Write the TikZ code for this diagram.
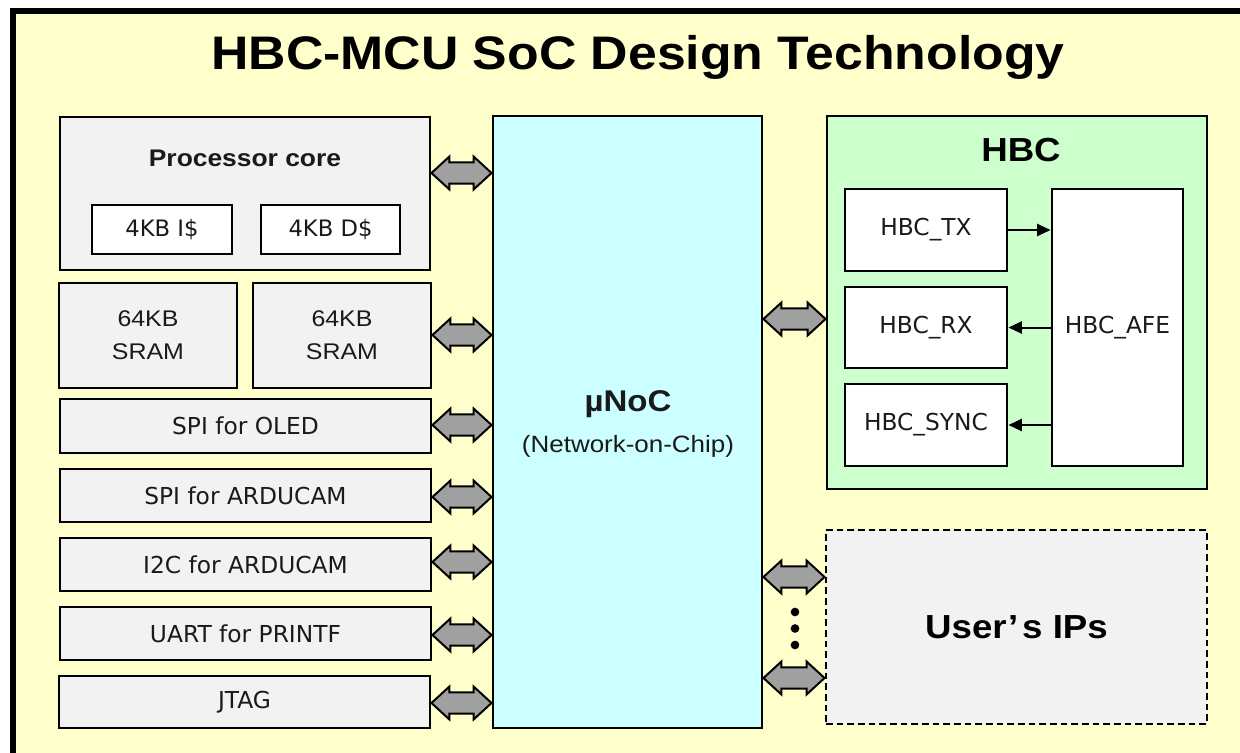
\documentclass[tikz,border=0pt]{standalone}
\usepackage{fontspec}
\setmainfont{Liberation Sans}[FakeStretch=1.1]
\newfontfamily\labelfont{DejaVu Sans}
\usetikzlibrary{arrows.meta,calc}

\definecolor{paper}{HTML}{FFFFCC}
\definecolor{boxgray}{HTML}{F2F2F2}
\definecolor{nocfill}{HTML}{CCFFFF}
\definecolor{hbcfill}{HTML}{CCFFCC}
\definecolor{busgray}{HTML}{A0A0A0}
\definecolor{ink}{HTML}{1A1A1A}

% block node given its corner coordinates (in px units)
\newcommand\blk[7][]{%
  \node[blockbox,#1,minimum width={(#5-#3)*0.75pt},minimum height={(#6-#4)*0.75pt}]
    (#2) at ({(#3+#5)/2},{(#4+#6)/2}) {#7};}

% wide grey double-headed bus arrow between two nodes at height #3
\newcommand\busarrow[3]{%
  \filldraw[bus] let \p1=(#1), \p2=(#2), \p3=(0,#3) in
    (\x1,\y3) -- (\x1+13.5pt,\y3+12.4pt) -- (\x1+13.5pt,\y3+7.9pt)
    -- (\x2-13.5pt,\y3+7.9pt) -- (\x2-13.5pt,\y3+12.4pt) -- (\x2,\y3)
    -- (\x2-13.5pt,\y3-12.4pt) -- (\x2-13.5pt,\y3-7.9pt)
    -- (\x1+13.5pt,\y3-7.9pt) -- (\x1+13.5pt,\y3-12.4pt) -- cycle;}

\begin{document}
\begin{tikzpicture}[x=0.75pt,y=-0.75pt,
  blockbox/.style={draw=black,line width=2.2pt,fill=boxgray,inner sep=0pt,
    text=ink,align=center,font=\labelfont\fontsize{17.5}{20}\selectfont},
  whitebox/.style={fill=white},
  bus/.style={draw=black,fill=busgray,line width=1.5pt,line join=miter},
  sig/.style={draw=black,line width=1.5pt,-{Triangle[length=10pt,width=9pt]}},
  dot/.style={circle,fill=black,inner sep=0pt,minimum size=6.5pt}]

\useasboundingbox (0,0) rectangle (1240,753);
\clip (0,0) rectangle (1240,753);
\fill[white] (0,0) rectangle (1240,753);
% outer frame: only its top and left sides fall on the page
\fill[paper] (13,11) rectangle (1240,753);
\draw[line width=4.5pt,line cap=rect] (13,753) -- (13,11) -- (1240,11);

\node[text=black,font=\bfseries\fontsize{35.3}{40}\selectfont] (title) at (638,57)
  {HBC-MCU SoC Design Technology};

% processor core with caches
\blk{proc}{60}{117}{430}{270}{}
\node[text=ink,font=\bfseries\fontsize{18}{20}\selectfont] (proclbl) at (245,158) {Processor core};
\blk[whitebox,line width=1.8pt,font=\labelfont\fontsize{17}{18}\selectfont]{icache}{92}{205}{232}{254}{4KB I\$}
\blk[whitebox,line width=1.8pt,font=\labelfont\fontsize{17}{18}\selectfont]{dcache}{261}{205}{400}{254}{4KB D\$}

% memories
\blk[font=\fontsize{17}{24.75}\selectfont]{sramA}{59}{283}{237}{388}{64KB\\SRAM}
\blk[font=\fontsize{17}{24.75}\selectfont]{sramB}{253}{283}{431}{388}{64KB\\SRAM}

% peripherals
\blk{oled}{60}{399}{431}{453}{SPI for OLED}
\blk{spicam}{60}{469}{431}{522}{SPI for ARDUCAM}
\blk{i2ccam}{60}{538}{431}{591}{I2C for ARDUCAM}
\blk{uart}{60}{607}{431}{660}{UART for PRINTF}
\blk{jtag}{59}{676}{430}{728}{JTAG}

% network-on-chip
\blk[fill=nocfill]{noc}{493}{116}{762}{728}{}
\node[text=ink,font=\bfseries\fontsize{22.5}{24}\selectfont] (noclbl) at (628,404) {µNoC};
\node[text=ink,font=\fontsize{17.7}{20}\selectfont] (nocsub) at (628,446) {(Network-on-Chip)};

% HBC subsystem
\blk[fill=hbcfill]{hbc}{827}{116}{1207}{489}{}
\node[text=black,font=\bfseries\fontsize{25}{28}\selectfont] (hbclbl) at (1021,150) {HBC};
\blk[whitebox]{tx}{845}{189}{1007}{271}{HBC\_TX}
\blk[whitebox]{rx}{845}{287}{1007}{368}{HBC\_RX}
\blk[whitebox]{sync}{845}{384}{1007}{466}{HBC\_SYNC}
\blk[whitebox]{afe}{1052}{189}{1183}{466}{HBC\_AFE}

\draw[sig] (tx.east) -- (afe.west |- tx.east);
\draw[sig] (afe.west |- rx.east) -- (rx.east);
\draw[sig] (afe.west |- sync.east) -- (sync.east);

% user IP slot
\blk[dash pattern=on 5pt off 3pt,font=\bfseries\fontsize{25}{28}\selectfont,text=black]{user}{826}{530}{1207}{724}{User\kern1pt’\kern3pt s IPs}

% bus connections
\busarrow{proc.east}{noc.west}{173}
\busarrow{sramB.east}{noc.west}{335}
\busarrow{oled.east}{noc.west}{425}
\busarrow{spicam.east}{noc.west}{497}
\busarrow{i2ccam.east}{noc.west}{562}
\busarrow{uart.east}{noc.west}{635}
\busarrow{jtag.east}{noc.west}{703}
\busarrow{noc.east}{hbc.west}{319}
\busarrow{noc.east}{user.west}{577}
\busarrow{noc.east}{user.west}{678}

\node[dot] (dotA) at (795,612) {};
\node[dot] (dotB) at (795,628.5) {};
\node[dot] (dotC) at (795,645) {};
\end{tikzpicture}
\end{document}
